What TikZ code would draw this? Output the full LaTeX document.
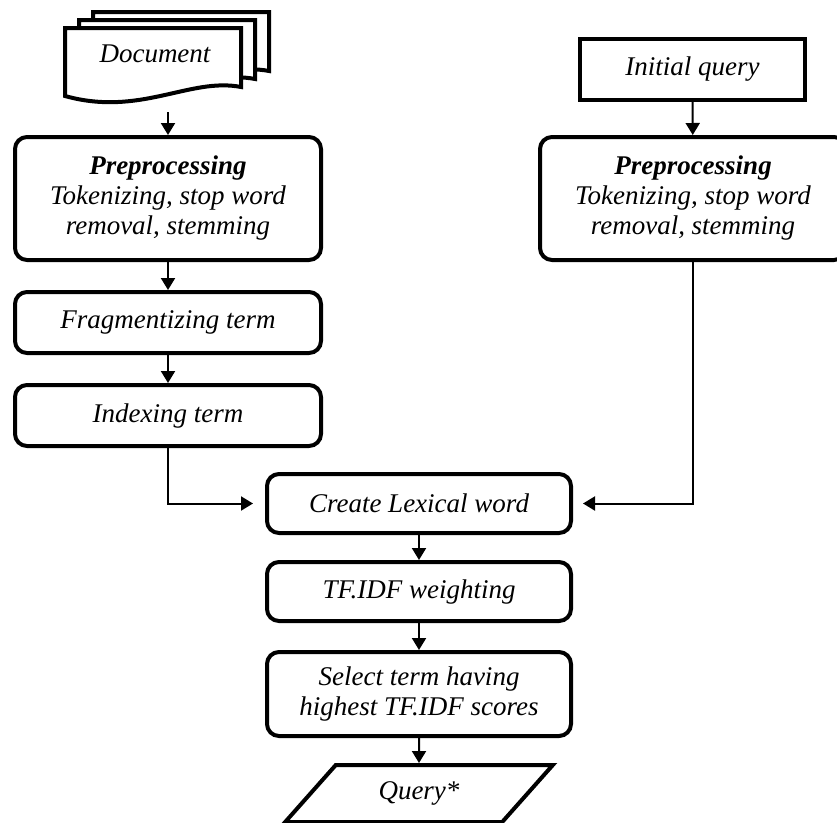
\documentclass[tikz,border=0pt]{standalone}
\usepackage{fontspec}
\setmainfont{Liberation Serif}
\usetikzlibrary{arrows.meta,positioning,shapes.geometric}
\tikzset{
  blk/.style   = {draw, line width=4pt, rounded corners=12pt, align=center,
                  font=\fontsize{27}{30}\selectfont\itshape, inner sep=2pt,
                  minimum width=306pt, minimum height=61pt},
  plain/.style = {blk, rounded corners=0pt},
  io/.style    = {draw, line width=4pt, trapezium, trapezium left angle=47,
                  trapezium right angle=133, trapezium stretches=true,
                  font=\fontsize{27}{30}\selectfont\itshape,
                  minimum width=268pt, minimum height=57pt, inner sep=2pt},
  sheet/.style = {draw, fill=white, line width=4pt, line join=miter},
  flow/.style  = {-{Triangle[length=12pt,width=14pt]}, line width=2pt},
}
\newcommand{\docsheet}[2]{%
  \draw[sheet, shift={(#1,#2)}] (65,28) -- (241,28) -- (241,87)
    .. controls (190,77) and (140,117) .. (65,96) -- cycle;}

\begin{document}
\begin{tikzpicture}[x=1pt, y=-1pt]
  \useasboundingbox (0,0) rectangle (837,822);

  % document stack
  \docsheet{28}{-16}
  \docsheet{14}{-8}
  \docsheet{0}{0}
  \node[font=\fontsize{27}{30}\selectfont\itshape] (doc) at (155,54) {Document};
  \coordinate (docout) at (168,112);

  % left branch
  \node[blk, minimum height=123pt] (prepL) at (168,198.5)
    {\textbf{Preprocessing}\\Tokenizing, stop word\\removal, stemming};
  \node[blk, below=28pt of prepL] (frag) {Fragmentizing term};
  \node[blk, below=28pt of frag] (idx) {Indexing term};

  % right branch
  \node[plain, minimum width=225pt] (init) at (692.5,69.5) {Initial query};
  \node[blk, minimum height=123pt] (prepR) at (693,198.5)
    {\textbf{Preprocessing}\\Tokenizing, stop word\\removal, stemming};

  % merged chain
  \node[blk, minimum width=304pt, minimum height=59pt] (lex) at (419,503.5)
    {Create Lexical word};
  \node[blk, minimum width=304pt, minimum height=59pt, below=25pt of lex] (tfidf)
    {TF.IDF weighting};
  \node[blk, minimum width=304pt, minimum height=84pt, below=27pt of tfidf] (select)
    {Select term having\\highest TF.IDF scores};
  \node[io, below=25pt of select] (query) {Query*};

  \draw[flow] (docout) -- (prepL);
  \draw[flow] (prepL) -- (frag);
  \draw[flow] (frag) -- (idx);
  \draw[flow] (init) -- (prepR);

  \draw[flow, shorten >=12pt] (idx.south) |- (lex.west);
  \draw[flow, shorten >=10pt] (prepR.south) |- (lex.east);

  \draw[flow] (lex) -- (tfidf);
  \draw[flow] (tfidf) -- (select);
  \draw[flow] (select) -- (query);

\end{tikzpicture}
\end{document}
